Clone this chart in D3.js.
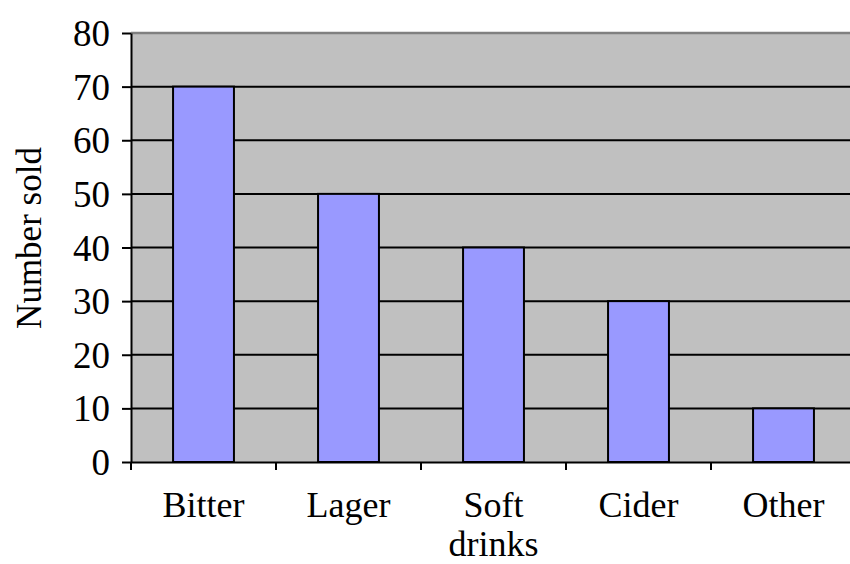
<!DOCTYPE html>
<html lang="en">
<head>
<meta charset="utf-8">
<title>Number sold</title>
<script src="https://cdn.jsdelivr.net/npm/d3@7"></script>
<style>
  body { margin: 0; background: #fff; }
</style>
</head>
<body>
<svg id="chart" width="850" height="564"></svg>
<script>
// data
var categories = ['Bitter', 'Lager', 'Soft drinks', 'Cider', 'Other'];
var sold = [70, 50, 40, 30, 10];
var yTicks = [0, 10, 20, 30, 40, 50, 60, 70, 80];

var plotLeft = 131, plotRight = 856, plotTop = 33, plotBottom = 462;
var serif = "'Liberation Serif', 'Times New Roman', Times, serif";

var svg = d3.select('#chart');

var x = d3.scaleBand().domain(categories).range([plotLeft, plotRight]).padding(0);
var y = d3.scaleLinear().domain([0, 80]).range([plotBottom, plotTop]);
var barW = x.bandwidth() * 0.42;

// plot background
svg.append('rect')
    .attr('x', plotLeft).attr('y', plotTop)
    .attr('width', plotRight - plotLeft).attr('height', plotBottom - plotTop)
    .attr('fill', '#c0c0c0');

// top border (gray)
svg.append('line')
    .attr('x1', plotLeft).attr('x2', plotRight)
    .attr('y1', y(80)).attr('y2', y(80))
    .attr('stroke', '#808080').attr('stroke-width', 2.5);

// gridlines
svg.append('g').selectAll('line')
    .data(yTicks.filter(function(d) { return d > 0 && d < 80; }))
    .enter().append('line')
    .attr('x1', plotLeft).attr('x2', plotRight)
    .attr('y1', function(d) { return y(d); })
    .attr('y2', function(d) { return y(d); })
    .attr('stroke', '#000').attr('stroke-width', 2);

// bars
svg.append('g').selectAll('rect')
    .data(categories)
    .enter().append('rect')
    .attr('x', function(d) { return x(d) + (x.bandwidth() - barW) / 2; })
    .attr('y', function(d, i) { return y(sold[i]); })
    .attr('width', barW)
    .attr('height', function(d, i) { return y(0) - y(sold[i]); })
    .attr('fill', '#9999ff')
    .attr('stroke', '#000').attr('stroke-width', 2);

// y axis
var yAxis = svg.append('g')
    .attr('transform', 'translate(' + plotLeft + ',0)')
    .call(d3.axisLeft(y).tickValues(yTicks).tickSize(9).tickPadding(12).tickSizeOuter(0));
yAxis.attr('font-family', serif).attr('font-size', 37);
yAxis.select('.domain').attr('stroke-width', 2);
yAxis.selectAll('.tick line').attr('stroke-width', 2);
yAxis.selectAll('.tick text').attr('dy', '0.34em');

// x axis
var xAxis = svg.append('g')
    .attr('transform', 'translate(0,' + plotBottom + ')')
    .call(d3.axisBottom(x).tickSize(0).tickSizeOuter(0).tickFormat(''));
xAxis.select('.domain').attr('stroke-width', 2);

// tick marks at category boundaries
svg.append('g').selectAll('line')
    .data(categories)
    .enter().append('line')
    .attr('x1', function(d) { return x(d); })
    .attr('x2', function(d) { return x(d); })
    .attr('y1', plotBottom).attr('y2', plotBottom + 8)
    .attr('stroke', '#000').attr('stroke-width', 2);

// category labels (wrapped)
var labels = svg.append('g').selectAll('text')
    .data(categories)
    .enter().append('text')
    .attr('text-anchor', 'middle')
    .attr('font-family', serif)
    .attr('font-size', 36);
labels.each(function(d) {
    var words = d == 'Soft drinks' ? ['Soft', 'drinks'] : [d];
    var t = d3.select(this);
    words.forEach(function(w, i) {
        t.append('tspan')
            .attr('x', x(d) + x.bandwidth() / 2)
            .attr('y', 517 + i * 39)
            .text(w);
    });
});

// y axis title
svg.append('text')
    .attr('transform', 'translate(41,' + 238 + ') rotate(-90)')
    .attr('text-anchor', 'middle')
    .attr('font-family', serif)
    .attr('font-size', 35)
    .text('Number sold');
</script>
</body>
</html>
